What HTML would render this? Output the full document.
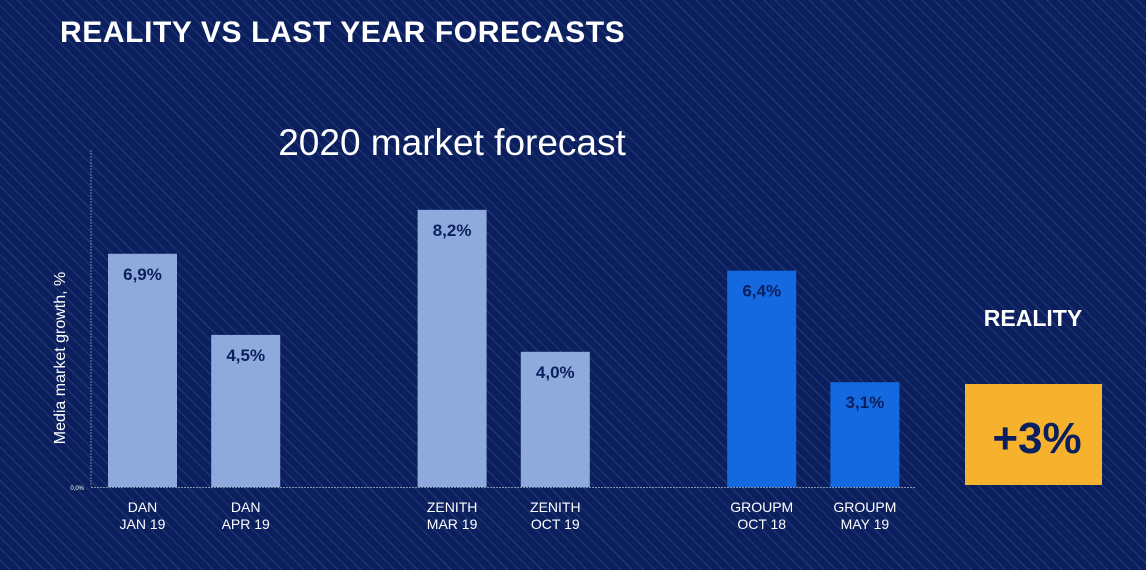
<!DOCTYPE html>
<html><head><meta charset="utf-8"><style>
body{margin:0;width:1146px;height:570px;overflow:hidden;font-family:"Liberation Sans",sans-serif;}
#bg{position:absolute;left:0;top:0;width:1146px;height:570px;background-color:#0b1f5e;
background-image:repeating-linear-gradient(45deg,#0b1f5e 0px,#0b1f5e 6.5px,#1b326c 6.5px,#1b326c 8px);}
</style></head><body>
<div id="bg"></div>
<svg width="1146" height="570" style="position:absolute;left:0;top:0">
<text x="60" y="42" fill="#fff" font-size="30" font-weight="bold" letter-spacing="0.6">REALITY VS LAST YEAR FORECASTS</text>
<text x="452" y="155" fill="#fff" font-size="37" text-anchor="middle">2020 market forecast</text>
<text transform="translate(65,358) rotate(-90)" fill="#fff" font-size="16" text-anchor="middle">Media market growth, %</text>
<line x1="91" y1="150" x2="91" y2="487" stroke="#6c7fa8" stroke-width="1" stroke-dasharray="2,1"/>
<line x1="91" y1="487.5" x2="915" y2="487.5" stroke="#8090b0" stroke-width="1" stroke-dasharray="2,1"/>
<text x="84" y="490" fill="#fff" font-size="6" text-anchor="end">0,0%</text>
<g id="bars"></g>
<text x="1033" y="326" fill="#fff" font-size="23" font-weight="bold" text-anchor="middle">REALITY</text>
<rect x="965" y="384" width="137" height="101" fill="#f7b22d"/>
<text x="1037" y="453" fill="#0b1f5e" font-size="44" font-weight="bold" text-anchor="middle">+3%</text>
</svg>
<script>
const cats1=["DAN","DAN","ZENITH","ZENITH","GROUPM","GROUPM"];
const cats2=["JAN 19","APR 19","MAR 19","OCT 19","OCT 18","MAY 19"];
const values=[6.9,4.5,8.2,4.0,6.4,3.1];
const labels=["6,9%","4,5%","8,2%","4,0%","6,4%","3,1%"];
const colors=["#8eaadd","#8eaadd","#8eaadd","#8eaadd","#1469e0","#1469e0"];
const slots=[0,1,3,4,6,7];
const base=487, unit=33.8;
function xs(i){return 108+slots[i]*103.2;}
function ys(v){return base-v*unit;}
const g=document.getElementById('bars');const NS="http://www.w3.org/2000/svg";
values.forEach((v,i)=>{
 const r=document.createElementNS(NS,'rect');
 
 
 r.setAttribute('x',xs(i));r.setAttribute('y',ys(v));r.setAttribute('width',69);r.setAttribute('height',base-ys(v));r.setAttribute('fill',colors[i]);g.appendChild(r);
 const t=document.createElementNS(NS,'text');
 
 
 t.setAttribute('x',xs(i)+34.5);t.setAttribute('y',ys(v)+26);t.setAttribute('text-anchor','middle');t.setAttribute('font-size','17');t.setAttribute('font-weight','bold');t.setAttribute('fill','#0b1f5e');t.textContent=labels[i];g.appendChild(t);
 [cats1[i],cats2[i]].forEach((s,k)=>{
  const c=document.createElementNS(NS,'text');
  
  
  c.setAttribute('x',xs(i)+34.5);c.setAttribute('y',512+k*17);c.setAttribute('text-anchor','middle');c.setAttribute('font-size','14');c.setAttribute('fill','#fff');c.textContent=s;g.appendChild(c);
 });
});
</script>
</body></html>
